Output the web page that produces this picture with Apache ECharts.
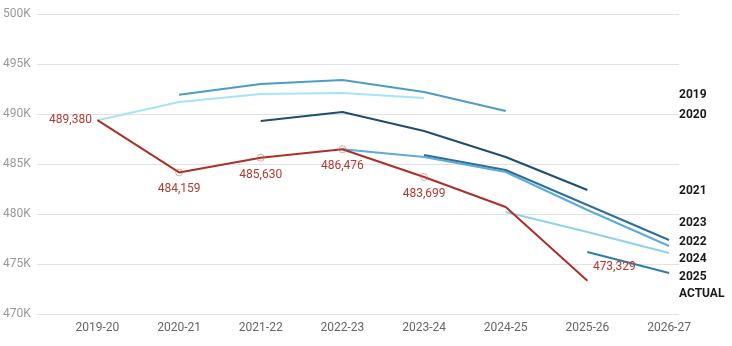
<!DOCTYPE html>
<html>
<head>
<meta charset="utf-8">
<script src="https://cdn.jsdelivr.net/npm/echarts@6/dist/echarts.min.js"></script>
<style>html,body{margin:0;padding:0;background:#fff}#c{width:732px;height:346px}</style>
</head>
<body>
<div id="c"></div>
<script>
var categories = ['2019-20','2020-21','2021-22','2022-23','2023-24','2024-25','2025-26','2026-27'];
var yTicks = [470000, 475000, 480000, 485000, 490000, 495000, 500000];

// forecast series: start index + values
var f2019Start = 0, f2019 = [489380, 491200, 492000, 492100, 491600];
var f2020Start = 1, f2020 = [491930, 493000, 493400, 492200, 490300];
var f2021Start = 2, f2021 = [489300, 490200, 488300, 485700, 482400];
var f2022Start = 3, f2022 = [486476, 485700, 484200, 480400, 476800];
var f2023Start = 4, f2023 = [485900, 484400, 480900, 477400];
var f2024Start = 5, f2024 = [480200, 478200, 476100];
var f2025Start = 6, f2025 = [476200, 474100];
var actual = [489380, 484159, 485630, 486476, 483699, 480700, 473329];
var actualLabeled = [true, true, true, true, true, false, true];

var legendNames = ['2019','2020','2021','2023','2022','2024','2025','ACTUAL'];
var legendY = [95, 115, 191, 222.5, 242, 259, 276.5, 294];

function pts(start, vals){ return vals.map(function(v,i){ return [start+i, v]; }); }

function fc(name, start, vals, color){
  return { name: name, type:'line', data: pts(start, vals), symbol:'none',
    lineStyle:{ color: color, width: 2 }, itemStyle:{color: color}, silent:true, animation:false };
}

var actualData = actual.map(function(v,i){
  var d = { value:[i, v] };
  var pos = i === 0 ? 'left' : (i === 6 ? 'right' : 'bottom');
  d.label = { show: actualLabeled[i], position: pos, distance: i===0 ? 5 : (i===6 ? 5 : 7),
    offset: i===6 ? [0,-14] : [0,0] };
  if (!(i>=1 && i<=4)) { d.symbolSize = 0.01; }
  return d;
});

var chart = echarts.init(document.getElementById('c'));
chart.setOption({
  animation:false,
  textStyle:{ fontFamily:'Roboto' },
  grid:{ left:33.3, right:53, top:14, bottom:32, containLabel:false },
  xAxis:{ type:'value', min:-0.743, max:7.122,
    axisLine:{show:false}, axisTick:{show:false}, splitLine:{show:false},
    axisLabel:{ customValues:[0,1,2,3,4,5,6,7], color:'#666', fontSize:12, margin:8,
      formatter:function(v){ return categories[Math.round(v)]; } } },
  yAxis:{ type:'value', min:yTicks[0], max:yTicks[yTicks.length-1], interval:5000,
    axisLine:{show:false}, axisTick:{show:false},
    splitLine:{ lineStyle:{ color:'#e2e2e2', width:1 } },
    axisLabel:{ color:'#999', fontSize:12, margin:6,
      formatter:function(v){ return (v/1000) + 'K'; } } },
  series:[
    fc('2019', f2019Start, f2019, '#a6e4f4'),
    fc('2020', f2020Start, f2020, '#4c9dc6'),
    fc('2021', f2021Start, f2021, '#1f4e72'),
    fc('2022', f2022Start, f2022, '#5dacd8'),
    fc('2023', f2023Start, f2023, '#2f6f97'),
    fc('2024', f2024Start, f2024, '#8fd1ef'),
    fc('2025', f2025Start, f2025, '#2e7ea8'),
    { name:'ACTUAL', type:'line', data: actualData, symbol:'circle', symbolSize:7,
      lineStyle:{ color:'#ad2f27', width:2 },
      itemStyle:{ color:'rgba(255,255,255,0)', borderColor:'rgba(214,110,100,0.6)', borderWidth:1 },
      label:{ color:'#b23a32', fontSize:12,
        formatter:function(p){ return p.value[1].toLocaleString('en-US'); } },
      z:5, silent:true }
  ],
  graphic: legendNames.map(function(n, i){
    return { type:'text', x:679, y:legendY[i], silent:true,
      style:{ text:n, fill:'#1a1a1a', font:'bold 12px Roboto', verticalAlign:'middle', align:'left' } };
  })
});
</script>
</body>
</html>
